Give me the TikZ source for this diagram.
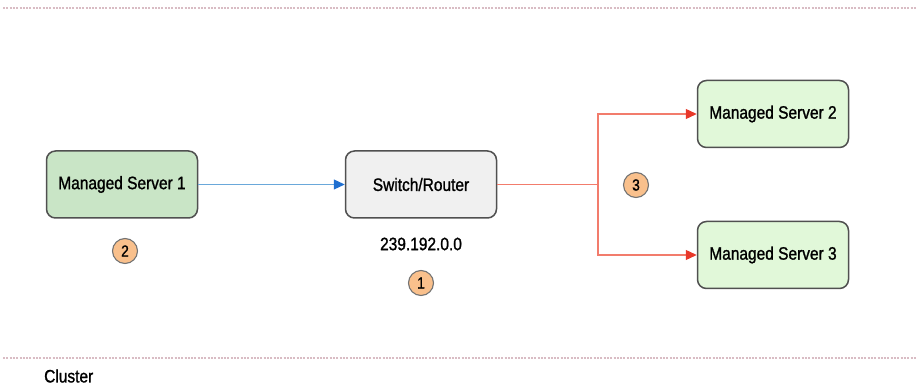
\documentclass[tikz,border=0pt]{standalone}
\usepackage{fontspec}
\setmainfont[FakeStretch=0.86,FakeBold=1.2]{Liberation Sans}
\usetikzlibrary{arrows.meta}
\definecolor{boxline}{HTML}{505050}
\definecolor{greenA}{HTML}{C9E5C6}
\definecolor{greenB}{HTML}{E1F8D9}
\definecolor{greyfill}{HTML}{F0F0F0}
\definecolor{badge}{HTML}{F9C08C}
\definecolor{bluel}{HTML}{6AA8DA}
\definecolor{bluetip}{HTML}{1F6FD0}
\definecolor{redl}{HTML}{F27C6C}
\definecolor{redtip}{HTML}{E8382A}
\definecolor{fence}{HTML}{D9BCC4}
\tikzset{
  serverbox/.style={draw=boxline, line width=1.5pt, rounded corners=9pt,
    minimum width=151pt, minimum height=67pt, inner sep=0pt,
    font=\fontsize{18}{20}\selectfont},
  numbadge/.style={circle, draw=boxline!80, line width=1.1pt, fill=badge,
    minimum size=25pt, inner sep=0pt, font=\fontsize{16}{17}\selectfont},
  bluelink/.style={draw=bluel, line width=1.2pt,
    -{Triangle[length=11pt,width=10pt,color=bluetip]}},
  redlink/.style={draw=redl, line width=1.3pt},
  redarrow/.style={redlink, -{Triangle[length=11pt,width=10pt,color=redtip]}},
  fenceline/.style={draw=fence, line width=2pt, dash pattern=on 2pt off 1.3pt},
  plain/.style={inner sep=0pt, font=\fontsize{18}{20}\selectfont}
}
\begin{document}
\begin{tikzpicture}[x=1pt,y=-1pt]
  \useasboundingbox (0,0) rectangle (918,387);

  % cluster boundary
  \coordinate (tl) at (3,8);
  \coordinate (tr) at (916,8);
  \coordinate (bl) at (3,358);
  \coordinate (br) at (916,358);
  \draw[fenceline] (tl) -- (tr);
  \draw[fenceline] (bl) -- (br);
  \node[plain, anchor=west] (cl) at (44,376) {Cluster};

  % servers and switch
  \node[serverbox, fill=greenA] (ms1) at (122,184.5) {Managed Server 1};
  \node[serverbox, fill=greyfill] (sw) at (421,184.5) {Switch/Router};
  \node[serverbox, fill=greenB] (ms2) at (773,114) {Managed Server 2};
  \node[serverbox, fill=greenB] (ms3) at (773,255) {Managed Server 3};

  \node[plain] (ip) at (421,244) {239.192.0.0};

  % numbered markers
  \node[numbadge] (n2) at (125,251) {2};
  \node[numbadge] (n1) at (421,283) {1};
  \node[numbadge] (n3) at (636,185) {3};

  % connections
  \draw[bluelink] (ms1.east) -- (sw.west);
  \coordinate (fork) at (598,184.5);
  \draw[redlink] (sw.east) -- (fork);
  \draw[redarrow] (fork) |- (ms2.west);
  \draw[redarrow] (fork) |- (ms3.west);
\end{tikzpicture}
\end{document}
